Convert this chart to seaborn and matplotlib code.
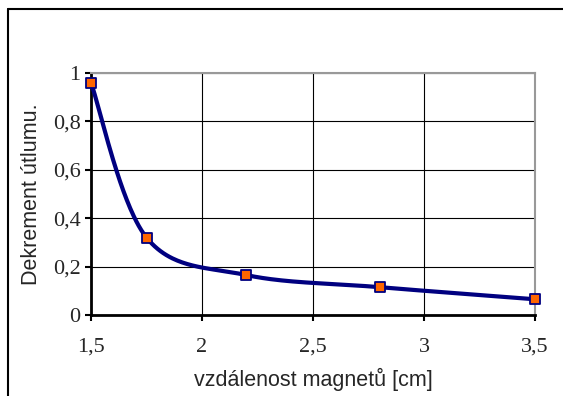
import numpy as np
import pandas as pd
import matplotlib
matplotlib.use("Agg")
import matplotlib.pyplot as plt
import seaborn as sns
from matplotlib.lines import Line2D

# data
distance_cm = [1.5, 1.75, 2.2, 2.8, 3.5]
decrement = [0.96, 0.32, 0.165, 0.115, 0.065]
x_ticks = [1.5, 2, 2.5, 3, 3.5]
x_tick_labels = ["1,5", "2", "2,5", "3", "3,5"]
y_ticks = [0, 0.2, 0.4, 0.6, 0.8, 1]
y_tick_labels = ["0", "0,2", "0,4", "0,6", "0,8", "1"]
x_label = "vzdálenost magnetů [cm]"
y_label = "Dekrement útlumu."

sns.set_theme(style="white")
plt.rcParams["font.family"] = ["Liberation Sans", "DejaVu Sans"]

fig = plt.figure(figsize=(5.63, 3.96), dpi=100)
W, H = 563, 396
ax = fig.add_axes([91 / W, 1 - 315 / H, 444 / W, 242 / H])

# smooth curve (Bezier through points, Excel-like), computed in axes-scaled space
xs = np.array(distance_cm, float)
ys = np.array(decrement, float)
sx = 444 / 2.0
sy = 242 / 1.0
P = np.column_stack([xs * sx, ys * sy])
curve = []
n = len(P)
for i in range(n - 1):
    p0 = P[i - 1] if i > 0 else P[i]
    p1 = P[i]
    p2 = P[i + 1]
    p3 = P[i + 2] if i + 2 < n else P[i + 1]
    c1 = p1 + (p2 - p0) / 6.0
    c2 = p2 - (p3 - p1) / 6.0
    t = np.linspace(0, 1, 60)[:, None]
    seg = ((1 - t) ** 3) * p1 + 3 * ((1 - t) ** 2) * t * c1 + 3 * (1 - t) * t ** 2 * c2 + t ** 3 * p2
    curve.append(seg if i == 0 else seg[1:])
curve = np.vstack(curve)
df_curve = pd.DataFrame({"x": curve[:, 0] / sx, "y": curve[:, 1] / sy})
df_pts = pd.DataFrame({"x": xs, "y": ys})

sns.lineplot(data=df_curve, x="x", y="y", sort=False, ax=ax, color="#000080",
             linewidth=3.0, zorder=3)
sns.scatterplot(data=df_pts, x="x", y="y", ax=ax, marker="s", s=60,
                color="#FF6600", edgecolor="#000080", linewidth=1.3, zorder=4,
                clip_on=False)

ax.set_xlim(1.5, 3.5)
ax.set_ylim(0, 1)
ax.set_xticks(x_ticks)
ax.set_xticklabels(x_tick_labels, family=["Liberation Serif"], fontsize=16)
ax.set_yticks(y_ticks)
ax.set_yticklabels(y_tick_labels, family=["Liberation Serif"], fontsize=16)
ax.grid(True, color="black", linewidth=0.8)
ax.set_axisbelow(True)
ax.tick_params(axis="both", which="both", direction="out", length=4.5, width=1.5,
               color="black", left=True, bottom=True, pad=3)
ax.tick_params(axis="x", pad=12)
for side in ["top", "right"]:
    ax.spines[side].set_color("#999999")
    ax.spines[side].set_linewidth(1.5)
for side in ["left", "bottom"]:
    ax.spines[side].set_color("black")
    ax.spines[side].set_linewidth(2)
ax.set_xlabel(x_label, fontsize=15.5, labelpad=8)
ax.set_ylabel(y_label, fontsize=15.5, labelpad=8)

# chart-area border (left and top visible)
fig.add_artist(Line2D([8 / W, 8 / W], [0, 1 - 9 / H], transform=fig.transFigure,
                      color="black", linewidth=1.5))
fig.add_artist(Line2D([8 / W, 1], [1 - 9 / H, 1 - 9 / H], transform=fig.transFigure,
                      color="black", linewidth=1.5))

fig.savefig("out.png", dpi=100)
